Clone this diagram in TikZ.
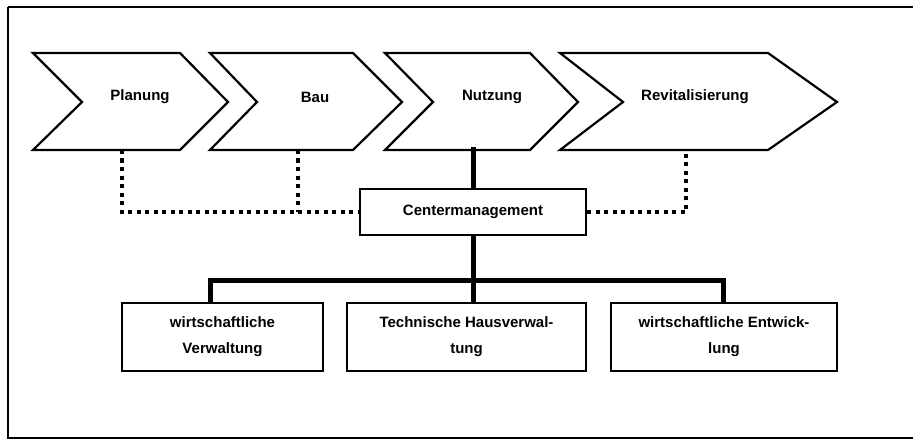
\documentclass[tikz,border=0pt]{standalone}
\usepackage{fontspec}
\setmainfont{Liberation Sans}
\begin{document}
\begin{tikzpicture}[x=1pt,y=-1pt,
  chev/.style={draw=black,line width=2.2pt,line join=miter,fill=white},
  box/.style={draw=black,line width=2.2pt,fill=white,rectangle,inner sep=0pt,font=\bfseries\fontsize{15}{26}\selectfont,align=center},
  lbl/.style={font=\bfseries\fontsize{15}{17}\selectfont,inner sep=1pt},
  solidcon/.style={line width=5pt},
  dotcon/.style={line width=4.5pt,dash pattern=on 4.3pt off 4.2pt}]
\useasboundingbox (0,0) rectangle (913,441);
\clip (0,0) rectangle (913,441);
% frame
\draw[line width=2.2pt] (8,7) -- (8,438) -- (930,438);
\draw[line width=2.2pt] (8,7) -- (930,7);
% chevrons
\draw[chev] (33,53) -- (180,53) -- (228,102) -- (180,150) -- (33,150) -- (82,102) -- cycle;
\draw[chev] (210,53) -- (353,53) -- (402,102) -- (353,150) -- (210,150) -- (257,102) -- cycle;
\draw[chev] (385,53) -- (530,53) -- (578,102) -- (530,150) -- (385,150) -- (433,102) -- cycle;
\draw[chev] (560,53) -- (768,53) -- (837,102) -- (768,150) -- (560,150) -- (623,102) -- cycle;
\node[lbl] (plan) at (140,97) {Planung};
\node[lbl] (bau) at (315,97) {Bau};
\node[lbl] (nutz) at (492,97) {Nutzung};
\node[lbl] (revi) at (695,97) {Revitalisierung};
\coordinate (planB) at (122,150);
\coordinate (bauB) at (298,150);
\coordinate (nutzB) at (473,147);
\coordinate (reviB) at (686,150);
% center management
\node[box,minimum width=226pt,minimum height=46pt] (cm) at (473,212) {Centermanagement};
% bottom boxes
\node[box,minimum width=201pt,minimum height=68pt] (b1) at (222.5,337) {wirtschaftliche\\Verwaltung};
\node[box,minimum width=239pt,minimum height=68pt] (b2) at (466.5,337) {Technische Hausverwal-\\tung};
\node[box,minimum width=226pt,minimum height=68pt] (b3) at (724,337) {wirtschaftliche Entwick-\\lung};
\coordinate (bus) at (473,280);
% solid connectors
\draw[solidcon] (nutzB) -- (cm.north -| nutzB);
\draw[solidcon] (cm.south) -- (b2.north -| cm.south);
\draw[solidcon,line join=miter] (210,303) |- (bus) -| (723,303);
% dotted connectors
\draw[dotcon] (planB) |- (cm.west);
\draw[dotcon] (bauB) -- (bauB |- cm.west);
\draw[dotcon] (cm.east) -| (reviB);
\end{tikzpicture}
\end{document}
